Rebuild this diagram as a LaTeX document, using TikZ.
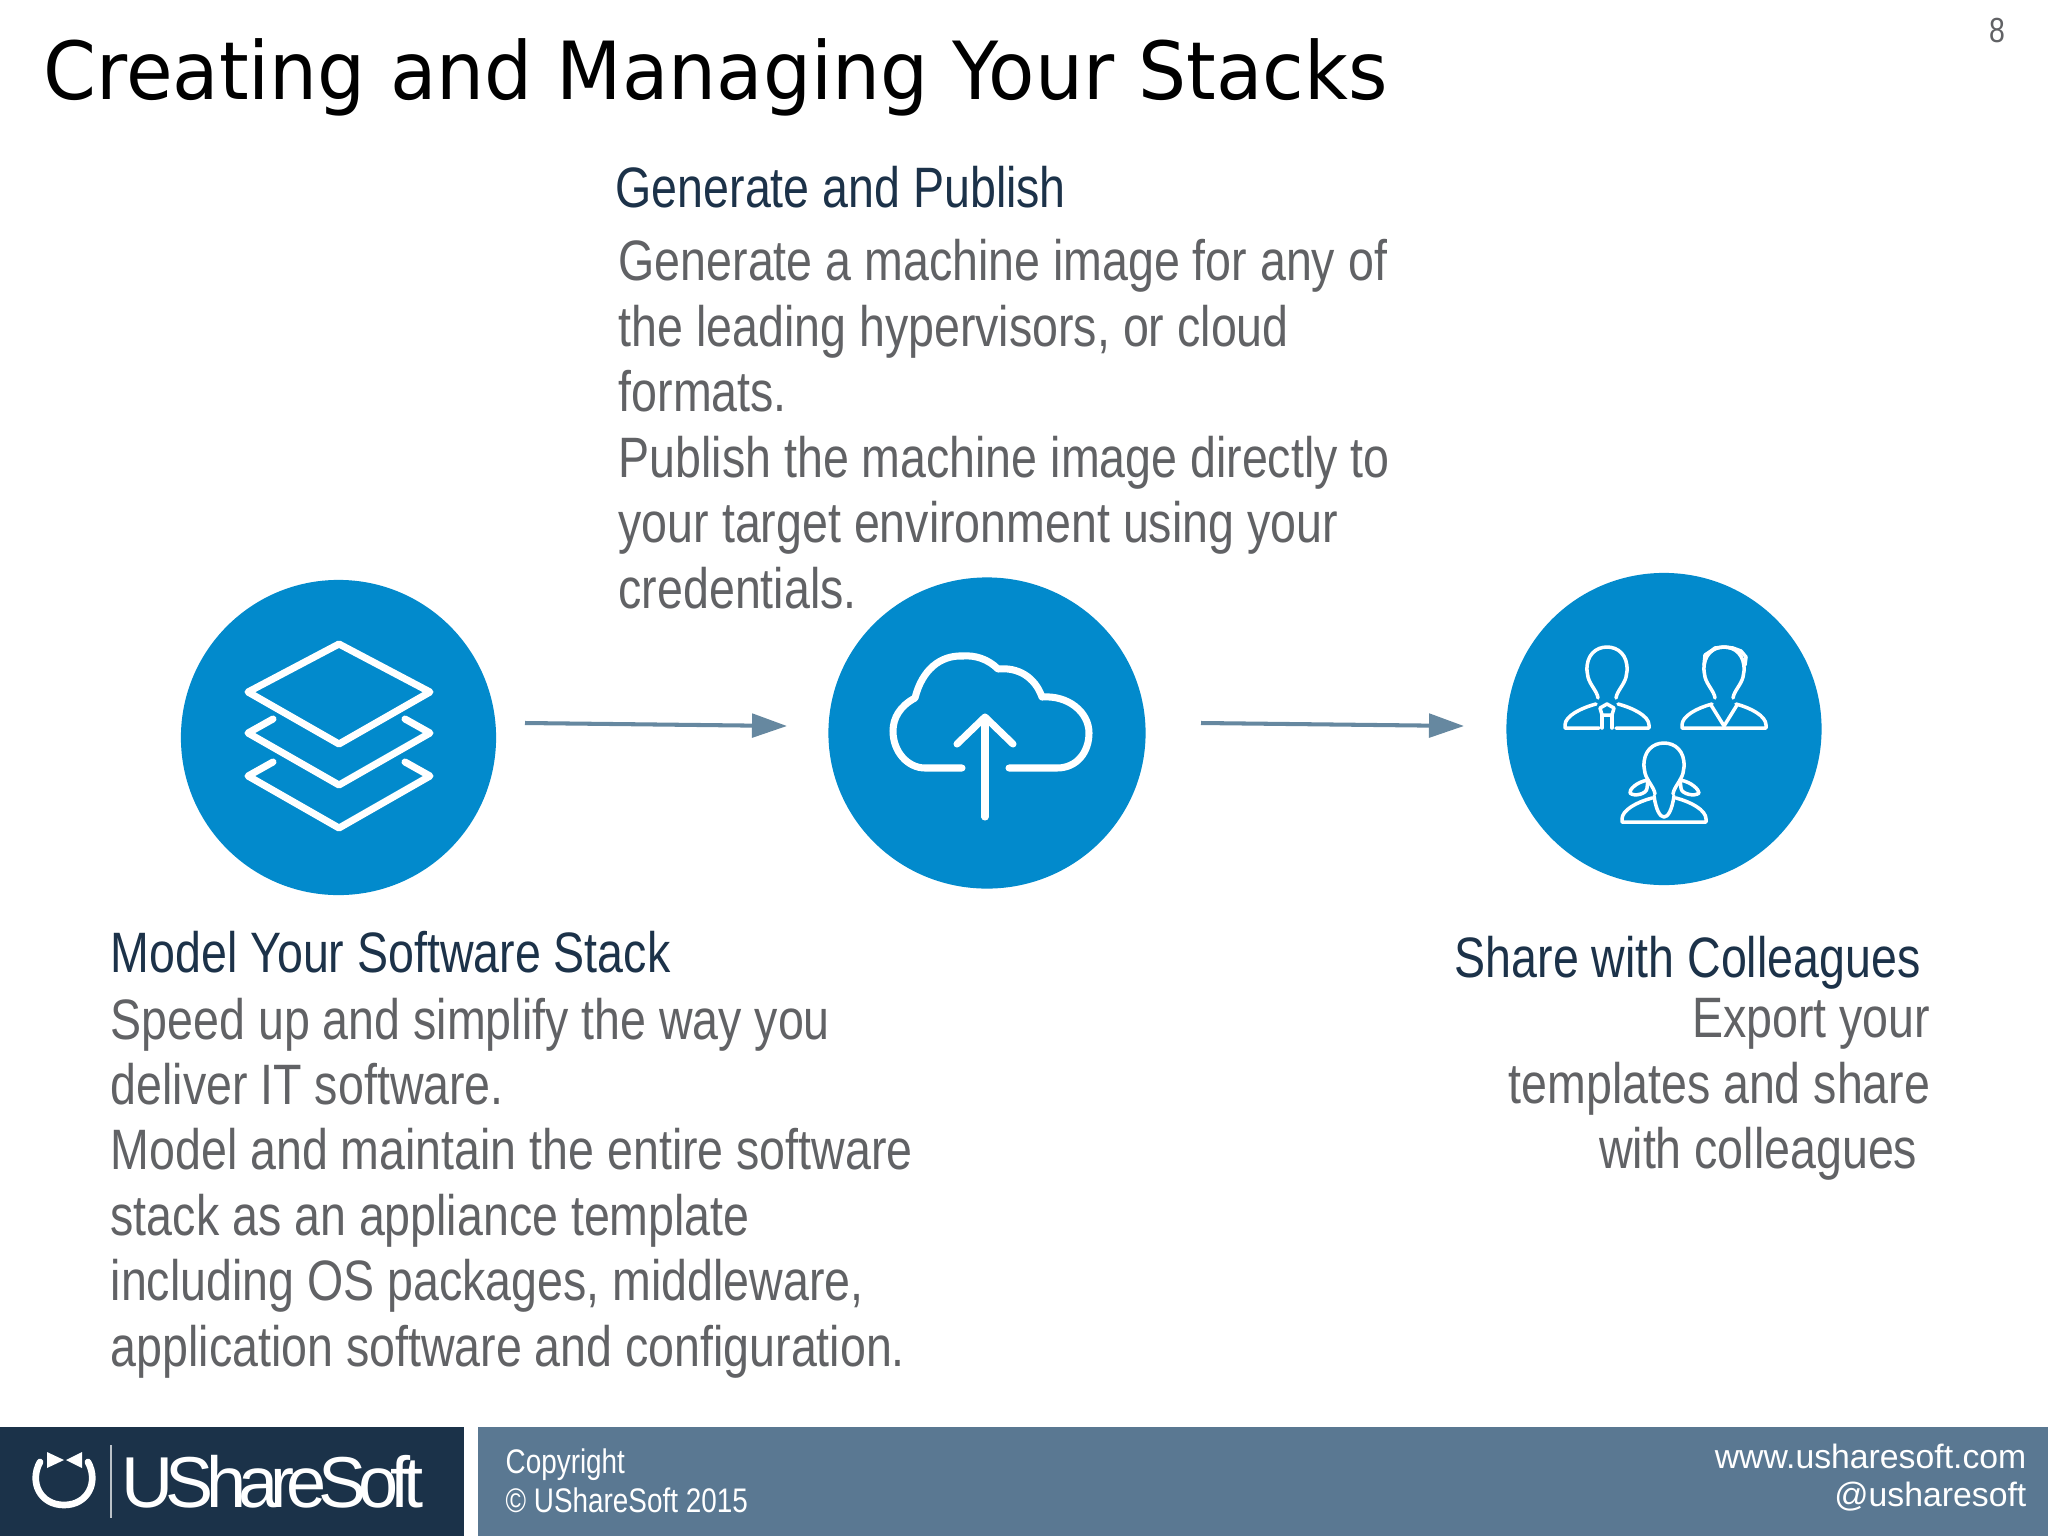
\documentclass[tikz,border=0pt]{standalone}
\usepackage{fontspec}
\setmainfont{Liberation Sans}
\newfontfamily\narrowfont[FakeStretch=0.817]{Liberation Sans}
\newfontfamily\logofont[LetterSpace=-11]{Liberation Sans}
\newfontfamily\titlefont[FakeStretch=0.945]{DejaVu Sans}
\usepackage{tikz}
\usetikzlibrary{arrows.meta, shapes.geometric}
\definecolor{stepBlue}{HTML}{028ACC}
\definecolor{arrowGrey}{HTML}{6688A0}
\definecolor{footDark}{HTML}{1B3249}
\definecolor{footLight}{HTML}{5A7892}
\definecolor{headText}{HTML}{1C3249}
\definecolor{bodyText}{HTML}{616265}
\tikzstyle{blueCircle} = [ellipse, minimum width = 3.15cm, minimum height = 3.15cm, inner sep=0pt, fill=stepBlue]
\tikzstyle{arrow} = [line width=1.15pt, draw=arrowGrey, -{Triangle[length=0.35cm,width=0.235cm]}]
\tikzstyle{iconLine} = [draw=white, line width=2pt, line cap=round, line join=round]
\tikzstyle{thinLine} = [draw=white, line width=1pt, line cap=round, line join=round]
\tikzstyle{stepHead} = [anchor=north west, inner sep=0pt, text=headText, font=\narrowfont\fontsize{16.2}{18.6}\selectfont]
\tikzstyle{stepBody} = [anchor=north west, inner sep=0pt, align=left, text=bodyText, font=\narrowfont\fontsize{16.2}{18.6}\selectfont]
\tikzstyle{footText} = [inner sep=0pt, text=white]
\tikzset{
  personHead/.pic={
    \draw [thinLine] (-9,51) .. controls (-10,44) and (-17,38) .. (-19,30) -- (-20,24) .. controls (-21,8) and (-11,0) .. (0,0) .. controls (11,0) and (21,8) .. (20,24) -- (19,30) .. controls (17,38) and (10,44) .. (9,51);
  },
  personBody/.pic={
    \draw [thinLine] (-12,57) .. controls (-27,61) and (-42,69) .. (-42,78) -- (-42,81) -- (42,81) -- (42,78) .. controls (42,69) and (27,61) .. (12,57);
  }
}
\begin{document}
\begin{tikzpicture}[x=0.01cm, y=-0.01cm]
    \useasboundingbox (0,0) rectangle (2048,1536);
    \fill [white] (0,0) rectangle (2048,1536);
    \node (title) [anchor=base west, inner sep=0pt, font=\titlefont\fontsize{22.8}{28}\selectfont] at (43,99) {Creating and Managing Your Stacks};
    \node (page) [inner sep=0pt, text=bodyText, font=\narrowfont\fontsize{9.9}{11}\selectfont] at (1997,31) {8};
    % the three steps
    \node (1) [blueCircle] at (338.5,737.5) {};
    \node (2) [blueCircle, minimum width=3.17cm, minimum height=3.11cm] at (987,733) {};
    \node (3) [blueCircle, minimum height=3.12cm] at (1664,729) {};
    \coordinate (1out) at (525,723);
    \coordinate (2in) at (787,726);
    \coordinate (2out) at (1201,723);
    \coordinate (3in) at (1464,726);
    \draw [arrow] (1out) -- (2in);
    \draw [arrow] (2out) -- (3in);
    % layers
    \draw [iconLine] (339,644) -- (248,692) -- (339,744) -- (430,692) -- cycle;
    \draw [iconLine] (273,719) -- (248,733) -- (339,785) -- (430,733) -- (405,719);
    \draw [iconLine] (273,762) -- (248,776) -- (339,828) -- (430,776) -- (405,762);
    % cloud
    \draw [iconLine] (1009,768) -- (1057,768) .. controls (1077,768) and (1089,752) .. (1089,733) .. controls (1089,712) and (1068,695) .. (1042,697) .. controls (1035,677) and (1018,667) .. (998,669) .. controls (988,659) and (975,655) .. (963,656) .. controls (940,655) and (922,670) .. (915,698) .. controls (900,706) and (893,718) .. (893,731) .. controls (893,752) and (908,768) .. (925,768) -- (962,768);
    \draw [iconLine] (985,817) -- (985,719);
    \draw [iconLine] (957,744) -- (985,717) -- (1013,744);
    % people
    \pic at (1607,647) {personHead};
    \draw [thinLine] (1596,704) .. controls (1581,708) and (1565,716) .. (1565,725) -- (1565,728) -- (1599,728);
    \draw [thinLine] (1618,704) .. controls (1633,708) and (1649,716) .. (1649,725) -- (1649,728) -- (1616,728);
    \draw [thinLine] (1600,708) -- (1607,704) -- (1614,708) -- (1612,715) -- (1602,715) -- cycle;
    \draw [thinLine] (1602,715) -- (1602,728);
    \draw [thinLine] (1612,715) -- (1612,728);
    \pic at (1724,647) {personHead};
    \pic at (1724,647) {personBody};
    \draw [thinLine] (1711,705) -- (1724,726) -- (1737,705);
    \draw [thinLine] (1704,665) -- (1705,655) -- (1711,651) -- (1715,648) -- (1724,647) -- (1733,648) -- (1741,651) -- (1746,657) -- (1745,665);
    \pic at (1664,743) {personHead};
    \pic at (1664,741) {personBody};
    \draw [thinLine] (1654,796) .. controls (1656,810) and (1660,817) .. (1664,817) .. controls (1668,817) and (1672,810) .. (1674,796);
    \draw [thinLine] (1648,780) .. controls (1636,782) and (1629,790) .. (1630,793) .. controls (1634,797) and (1647,794) .. (1647,788) -- cycle;
    \draw [thinLine] (1680,780) .. controls (1692,782) and (1699,790) .. (1699,793) .. controls (1695,797) and (1681,794) .. (1681,788) -- cycle;
    % texts
    \node (topHead) [stepHead] at (615,166) {Generate and Publish};
    \node (topBody) [stepBody] at (618,239) {Generate a machine image for any of\\the leading hypervisors, or cloud\\formats.\\Publish the machine image directly to\\your target environment using your\\credentials.};
    \node (leftHead) [stepHead] at (110,931) {Model Your Software Stack};
    \node (leftBody) [stepBody] at (110,997) {Speed up and simplify the way you\\deliver IT software.\\Model and maintain the entire software\\stack as an appliance template\\including OS packages, middleware,\\application software and configuration.};
    \node (rightHead) [stepHead] at (1454,935) {Share with Colleagues};
    \node (rightBody) [stepBody, align=right, anchor=north east] at (1931,998) {Export your\\templates and share\\with colleagues\hspace*{3.7pt}};
    % footer
    \fill [footDark] (0,1427) rectangle (464,1536);
    \fill [footLight] (478,1427) rectangle (2048,1536);
    \draw [white, line width=1.9pt, line cap=round] (40,1462) .. controls (29,1482) and (40,1505) .. (64,1505) .. controls (88,1505) and (99,1482) .. (88,1462);
    \fill [white] (47,1452) -- (64,1460) -- (47,1468) -- cycle;
    \fill [white] (82,1452) -- (66,1460) -- (82,1468) -- cycle;
    \draw [white!70!footDark, line width=0.4pt] (111,1445) -- (111,1518);
    \node (logo) [anchor=base west, footText, font=\logofont\fontsize{20.5}{24}\selectfont] at (121,1507) {UShareSoft};
    \node (copy) [footText, anchor=north west, align=left, font=\narrowfont\fontsize{9.7}{11.2}\selectfont] at (505,1448) {Copyright\\© UShareSoft 2015};
    \node (web) [footText, anchor=north east, align=right, font=\fontsize{9.6}{11}\selectfont] at (2027,1443) {www.usharesoft.com\\@usharesoft};
\end{tikzpicture}
\end{document}
